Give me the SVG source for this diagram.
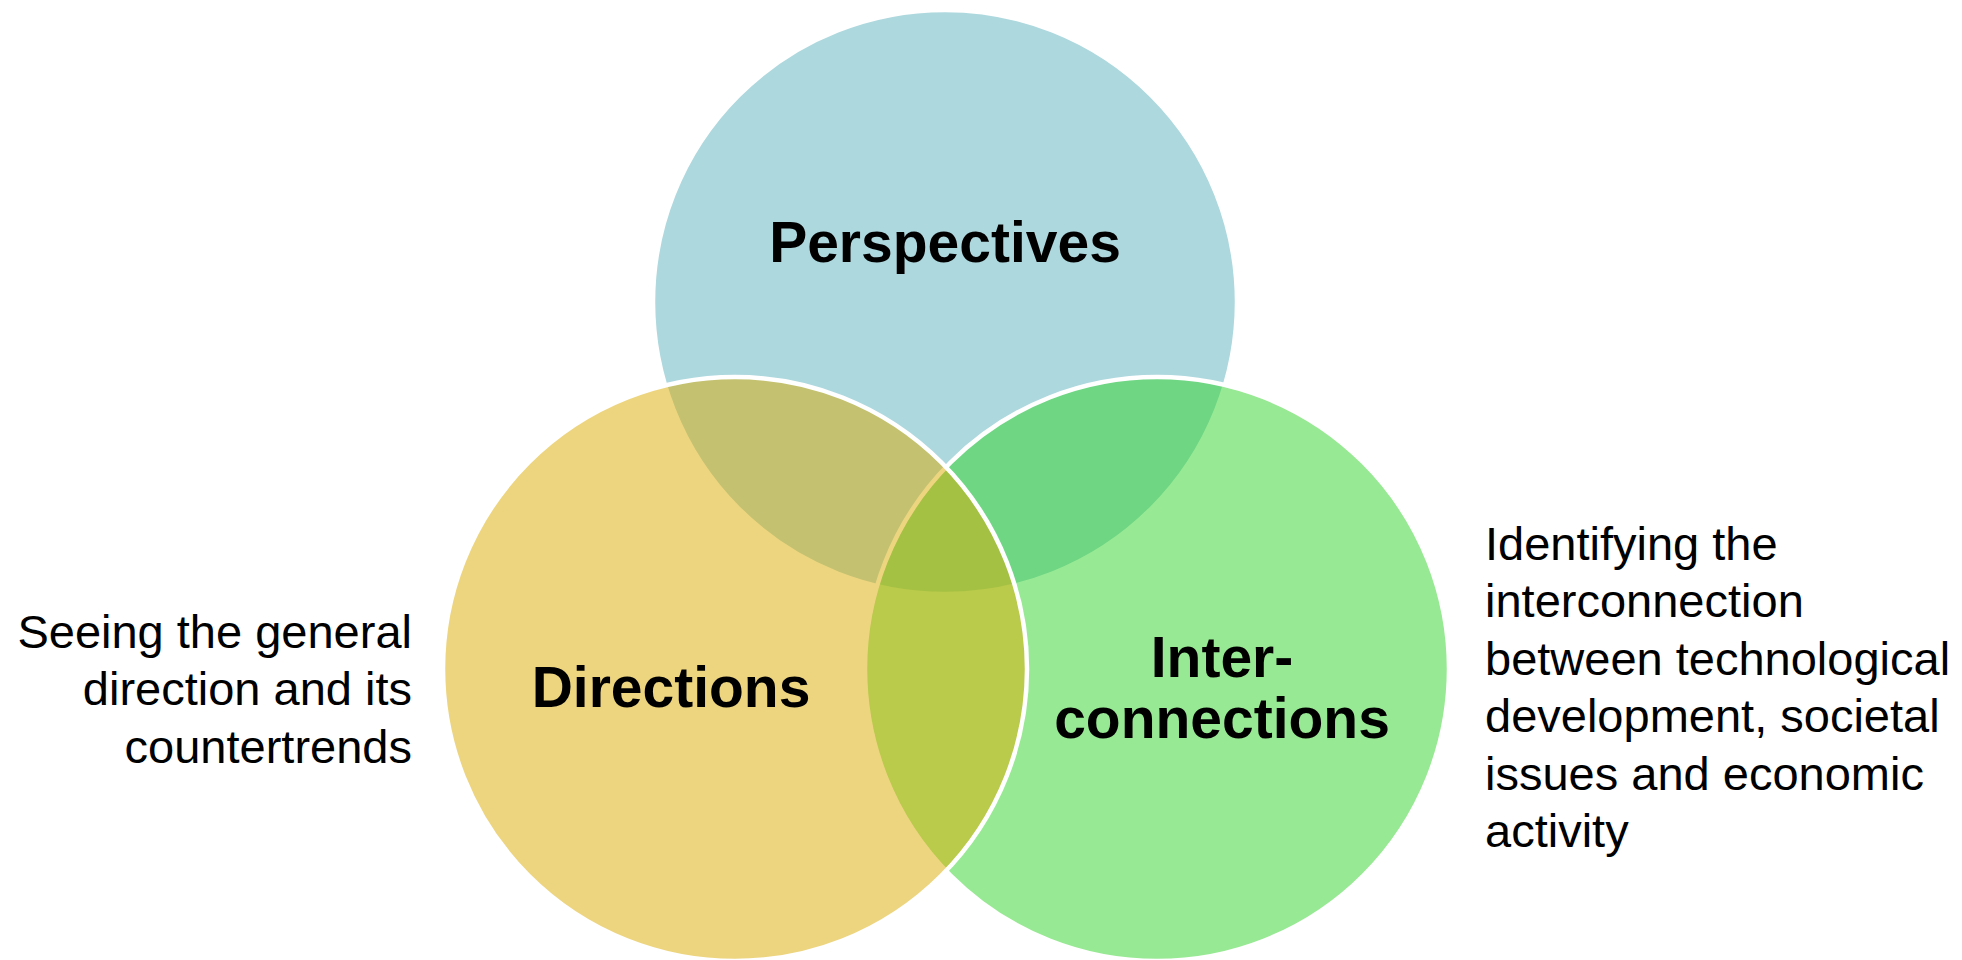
<svg xmlns="http://www.w3.org/2000/svg" width="1962" height="960" viewBox="0 0 1962 960">
<style>
.c{fill-opacity:0.5;stroke:#FFFFFF;stroke-width:4.5;}
.lbl{font-family:"Liberation Sans",Arial,Helvetica,sans-serif;font-weight:bold;font-size:57px;fill:#000000;text-anchor:middle;}
.desc{font-family:"Liberation Sans",Arial,Helvetica,sans-serif;font-size:47px;fill:#000000;}
</style>
<rect x="0" y="0" width="1962" height="960" fill="#FFFFFF"/>
<g id="perspectives">
<circle class="c" cx="945" cy="302" r="292" fill="#5BB1BD"/>
<text class="lbl" x="945" y="262">Perspectives</text>
</g>
<g id="interconnections">
<circle class="c" cx="1157" cy="669" r="292" fill="#31D329"/>
<text class="lbl" x="1222" y="677">Inter-</text>
<text class="lbl" x="1222" y="738">connections</text>
</g>
<g id="directions">
<circle class="c" cx="735" cy="669" r="292" fill="#DBAB01"/>
<text class="lbl" x="671" y="707">Directions</text>
</g>
<g id="directions-desc">
<text class="desc" text-anchor="end" x="412" y="648">Seeing the general</text>
<text class="desc" text-anchor="end" x="412" y="705">direction and its</text>
<text class="desc" text-anchor="end" x="412" y="763">countertrends</text>
</g>
<g id="interconnections-desc">
<text class="desc" x="1485" y="560">Identifying the</text>
<text class="desc" x="1485" y="617">interconnection</text>
<text class="desc" x="1485" y="675">between technological</text>
<text class="desc" x="1485" y="732">development, societal</text>
<text class="desc" x="1485" y="790">issues and economic</text>
<text class="desc" x="1485" y="847">activity</text>
</g>
<g id="connectors"></g>
</svg>
